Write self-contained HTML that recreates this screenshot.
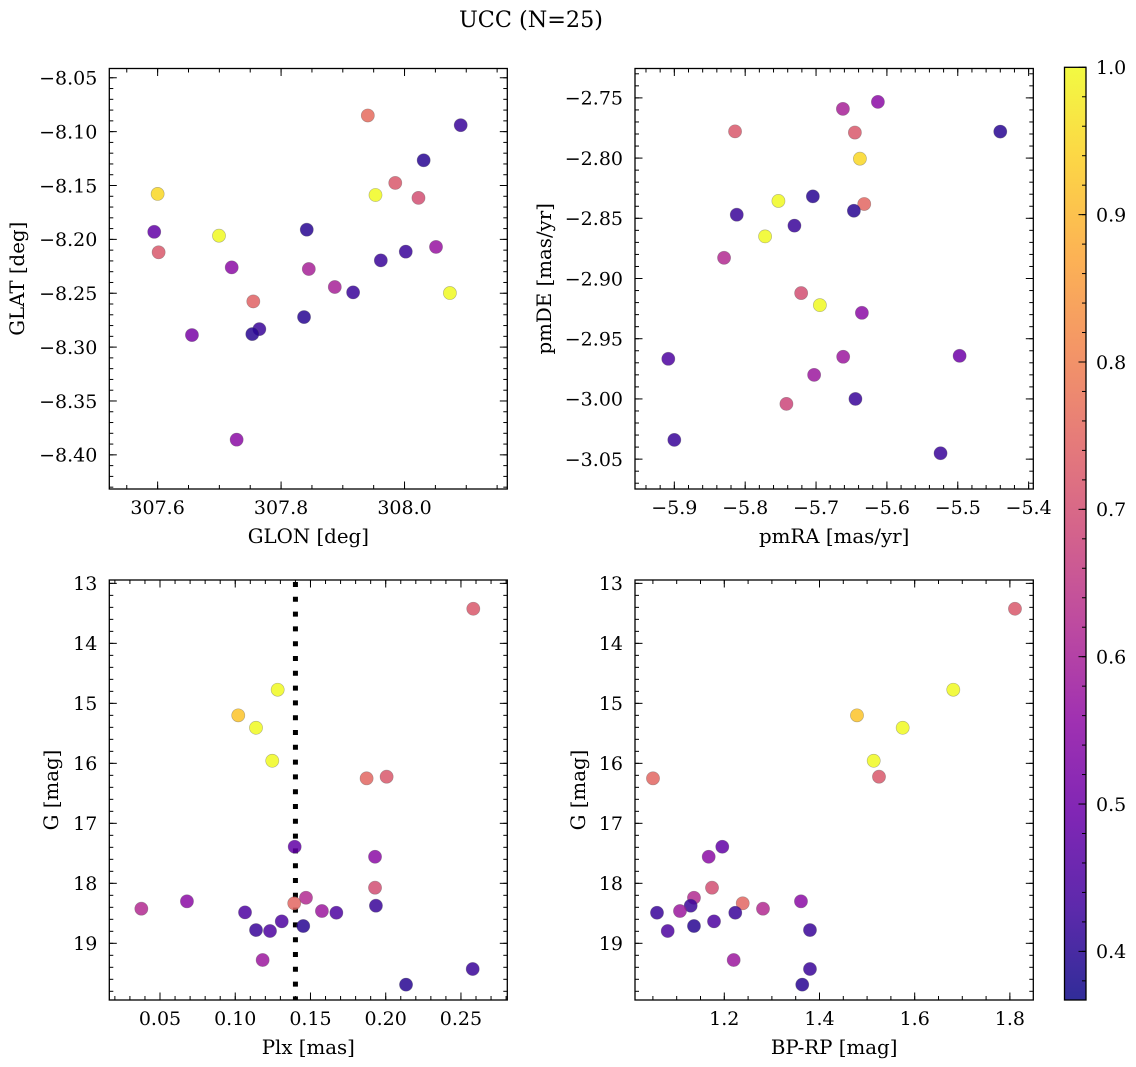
<!DOCTYPE html>
<html>
<head>
<meta charset="utf-8">
<style>
html,body{margin:0;padding:0;background:#fff;}
svg{display:block;}
text{font-family:"DejaVu Serif","Liberation Serif",serif;fill:#000;}
</style>
</head>
<body>
<svg id="fig" width="1136" height="1067" viewBox="0 0 1136 1067" xmlns="http://www.w3.org/2000/svg">
<defs>
<linearGradient id="plasmaGrad" x1="0" y1="1" x2="0" y2="0"></linearGradient>
</defs>
<text x="531" y="27" font-size="22.3" text-anchor="middle">UCC (N=25)</text>
</svg>
<script>
// ---------- DATA ----------
// Panel 1: GLON vs GLAT
const glon = [307.9405,308.091,308.031,307.985,307.953,308.0226,307.6,307.5945,307.6994,307.6016,307.8416,307.72,307.8449,307.9616,308.002,308.051,307.887,307.9167,308.0735,307.755,307.8372,307.7648,307.7534,307.6556,307.728];
const glat = [-8.085,-8.094,-8.1266,-8.1476,-8.1588,-8.1615,-8.1578,-8.193,-8.1966,-8.212,-8.191,-8.226,-8.2275,-8.2195,-8.2114,-8.207,-8.2442,-8.2492,-8.2498,-8.2576,-8.2721,-8.2833,-8.2879,-8.2888,-8.3859];
const prob1 = [0.76,0.42,0.40,0.72,1.0,0.70,0.95,0.48,1.0,0.72,0.40,0.55,0.60,0.42,0.42,0.57,0.60,0.42,1.0,0.74,0.40,0.42,0.40,0.52,0.55];
// Panel 2: pmRA vs pmDE
const pmra = [-5.6127,-5.6621,-5.8143,-5.6452,-5.44,-5.6381,-5.7045,-5.7531,-5.632,-5.6466,-5.8119,-5.7305,-5.7719,-5.8298,-5.721,-5.6946,-5.6353,-5.6617,-5.4974,-5.9085,-5.7027,-5.6444,-5.7418,-5.9,-5.5243];
const pmde = [-2.7533,-2.7591,-2.7778,-2.7788,-2.778,-2.8005,-2.8318,-2.8356,-2.8381,-2.8437,-2.847,-2.8561,-2.865,-2.8828,-2.9121,-2.9221,-2.9285,-2.965,-2.9642,-2.9667,-2.98,-3.0,-3.0041,-3.034,-3.0451];
const prob2 = [0.55,0.60,0.72,0.72,0.40,0.95,0.40,1.0,0.75,0.40,0.42,0.42,1.0,0.62,0.70,1.0,0.55,0.58,0.50,0.45,0.58,0.42,0.68,0.42,0.42];
// Panel 3: Plx vs G
const plx = [0.2582,0.1282,0.102,0.1138,0.1246,0.1873,0.2006,0.1395,0.1929,0.1929,0.147,0.1392,0.1935,0.0679,0.0376,0.1576,0.1672,0.1065,0.1309,0.1452,0.1138,0.1231,0.1182,0.2578,0.2135];
const gmag3 = [13.423,14.773,15.2,15.407,15.957,16.25,16.223,17.39,17.557,18.073,18.24,18.333,18.373,18.3,18.423,18.462,18.49,18.484,18.634,18.712,18.779,18.795,19.278,19.428,19.689];
const prob3 = [0.72,1.0,0.92,1.0,1.0,0.75,0.72,0.48,0.55,0.70,0.62,0.75,0.42,0.55,0.62,0.58,0.45,0.45,0.45,0.40,0.42,0.45,0.58,0.42,0.40];
const plxLine = [0.14];
// Panel 4: BP-RP vs G
const bprp = [1.8107,1.6811,1.4788,1.5748,1.5139,1.0502,1.525,1.1958,1.1672,1.1742,1.1363,1.2387,1.1294,1.3611,1.2813,1.1069,1.0586,1.2231,1.1784,1.1363,1.38,1.0811,1.2197,1.38,1.3638];
const gmag4 = [13.423,14.773,15.2,15.407,15.957,16.25,16.223,17.39,17.557,18.073,18.24,18.333,18.373,18.3,18.423,18.462,18.49,18.49,18.634,18.712,18.779,18.795,19.278,19.428,19.689];
const prob4 = [0.72,1.0,0.92,1.0,1.0,0.75,0.72,0.48,0.55,0.70,0.62,0.75,0.42,0.55,0.62,0.58,0.42,0.42,0.45,0.40,0.42,0.45,0.58,0.42,0.40];
// Tick arrays
const p1xTicks = [307.6,307.8,308.0];
const p1xLabels = ["307.6","307.8","308.0"];
const p1yTicks = [-8.05,-8.10,-8.15,-8.20,-8.25,-8.30,-8.35,-8.40];
const p1yLabels = ["−8.05","−8.10","−8.15","−8.20","−8.25","−8.30","−8.35","−8.40"];
const p2xTicks = [-5.9,-5.8,-5.7,-5.6,-5.5,-5.4];
const p2xLabels = ["−5.9","−5.8","−5.7","−5.6","−5.5","−5.4"];
const p2yTicks = [-2.75,-2.80,-2.85,-2.90,-2.95,-3.00,-3.05];
const p2yLabels = ["−2.75","−2.80","−2.85","−2.90","−2.95","−3.00","−3.05"];
const p3xTicks = [0.05,0.10,0.15,0.20,0.25];
const p3xLabels = ["0.05","0.10","0.15","0.20","0.25"];
const gTicks = [13,14,15,16,17,18,19];
const gLabels = ["13","14","15","16","17","18","19"];
const p4xTicks = [1.2,1.4,1.6,1.8];
const p4xLabels = ["1.2","1.4","1.6","1.8"];
const cbTicks = [0.4,0.5,0.6,0.7,0.8,0.9,1.0];
const cbLabels = ["0.4","0.5","0.6","0.7","0.8","0.9","1.0"];
const cbMin = 0.367, cbMax = 1.0;

// ---------- HELPERS ----------
const NS = "http://www.w3.org/2000/svg";
const svg = document.getElementById('fig');
function mk(tag, attrs, parent){
  const e = document.createElementNS(NS, tag);
  for (const k in attrs) e.setAttribute(k, attrs[k]);
  (parent||svg).appendChild(e);
  return e;
}
const plasma = [[0,"#0d0887"],[0.1,"#41049d"],[0.2,"#6a00a8"],[0.3,"#8f0da4"],[0.4,"#b12a90"],[0.5,"#cc4778"],[0.6,"#e16462"],[0.7,"#f2844b"],[0.8,"#fca636"],[0.9,"#fcce25"],[1.0,"#f0f921"]];
function hex(h){return [1,3,5].map(i=>parseInt(h.substr(i,2),16));}
function cmap(v){
  let t=(v-cbMin)/(cbMax-cbMin); t=Math.max(0,Math.min(1,t));
  for(let i=0;i<plasma.length-1;i++){
    if(t<=plasma[i+1][0]){
      const a=hex(plasma[i][1]), b=hex(plasma[i+1][1]);
      const f=(t-plasma[i][0])/(plasma[i+1][0]-plasma[i][0]);
      return "rgb("+a.map((x,j)=>Math.round(x+(b[j]-x)*f)).join(",")+")";
    }
  }
  return plasma[plasma.length-1][1];
}
const grad = document.getElementById('plasmaGrad');
plasma.forEach(s=>{ mk('stop',{offset:s[0],'stop-color':s[1]},grad); });

function panel(opt){
  const g = mk('g',{});
  
  
  const sx = v => opt.x0 + (v-opt.xd[0])/(opt.xd[1]-opt.xd[0])*(opt.x1-opt.x0);
  const sy = opt.yinv
    ? (v => opt.y0 + (v-opt.yd[0])/(opt.yd[1]-opt.yd[0])*(opt.y1-opt.y0))
    : (v => opt.y1 - (v-opt.yd[0])/(opt.yd[1]-opt.yd[0])*(opt.y1-opt.y0));
  if (opt.vline){
    opt.vline.forEach(v=>{
      const l = mk('line',{x1:sx(v),x2:sx(v),y1:opt.y0+2,y2:opt.y1,stroke:'#000','stroke-width':5,'stroke-dasharray':'5 9.8'},g);
      
      
    });
  }
  const pg = mk('g',{},g);
  
  
  opt.xs.forEach((xv,i)=>{
    const c = mk('circle',{cx:sx(xv),cy:sy(opt.ys[i]),r:6.6,fill:cmap(opt.cs[i]),'fill-opacity':0.85,stroke:'rgba(90,90,90,0.45)','stroke-width':0.6},pg);
    
    
  });
  const tg = mk('g',{stroke:'#000','stroke-width':1},g);
  
  
  function xt(v,len){
    const X=sx(v); if(X<opt.x0+0.5||X>opt.x1-0.5) return;
    mk('line',{x1:X,x2:X,y1:opt.y1,y2:opt.y1-len},tg);
    mk('line',{x1:X,x2:X,y1:opt.y0,y2:opt.y0+len},tg);
  }
  function yt(v,len){
    const Y=sy(v); if(Y<opt.y0+0.5||Y>opt.y1-0.5) return;
    mk('line',{x1:opt.x0,x2:opt.x0+len,y1:Y,y2:Y},tg);
    mk('line',{x1:opt.x1,x2:opt.x1-len,y1:Y,y2:Y},tg);
  }
  const xlo=Math.min(...opt.xd), xhi=Math.max(...opt.xd);
  for(let k=Math.ceil(xlo/opt.xminor);k*opt.xminor<=xhi;k++) xt(k*opt.xminor,4);
  const ylo=Math.min(...opt.yd), yhi=Math.max(...opt.yd);
  for(let k=Math.ceil(ylo/opt.yminor);k*opt.yminor<=yhi;k++) yt(k*opt.yminor,4);
  opt.xt.forEach(v=>xt(v,7.5));
  opt.yt.forEach(v=>yt(v,7.5));
  const f = mk('rect',{x:opt.x0,y:opt.y0,width:opt.x1-opt.x0,height:opt.y1-opt.y0,fill:'none',stroke:'#000','stroke-width':1.3},g);
  
  
  opt.xt.forEach((v,i)=>{
    const t = mk('text',{x:sx(v),y:opt.y1+25,'font-size':19,'text-anchor':'middle'},g);
    t.textContent = opt.xl[i];
    
    
  });
  opt.yt.forEach((v,i)=>{
    const t = mk('text',{x:opt.x0-12,y:sy(v)+6.8,'font-size':19,'text-anchor':'end'},g);
    t.textContent = opt.yl[i];
    
    
  });
  const xa = mk('text',{x:(opt.x0+opt.x1)/2,y:opt.y1+54,'font-size':19.8,'text-anchor':'middle'},g);
  xa.textContent = opt.xlabel;
  
  
  const cy=(opt.y0+opt.y1)/2;
  const ya = mk('text',{x:opt.ylx,y:cy,'font-size':19.8,'text-anchor':'middle',transform:'rotate(-90 '+opt.ylx+' '+cy+')'},g);
  ya.textContent = opt.ylabel;
  
  
}

panel({name:'glon-glat-panel',x0:109.3,x1:507.3,y0:68.5,y1:489,xd:[307.5217,308.1665],yd:[-8.4317,-8.0414],
  xs:glon,ys:glat,cs:prob1,xt:p1xTicks,xl:p1xLabels,yt:p1yTicks,yl:p1yLabels,xminor:0.05,yminor:0.01,
  xlabel:'GLON [deg]',ylabel:'GLAT [deg]',ylx:24});
panel({name:'pm-panel',x0:635,x1:1033.3,y0:68.5,y1:489,xd:[-5.9555,-5.3934],yd:[-3.0748,-2.7256],
  xs:pmra,ys:pmde,cs:prob2,xt:p2xTicks,xl:p2xLabels,yt:p2yTicks,yl:p2yLabels,xminor:0.02,yminor:0.01,
  xlabel:'pmRA [mas/yr]',ylabel:'pmDE [mas/yr]',ylx:551});
panel({name:'plx-g-panel',x0:109.3,x1:507.3,y0:580,y1:1000,xd:[0.0163,0.2808],yd:[12.944,19.945],yinv:true,
  xs:plx,ys:gmag3,cs:prob3,xt:p3xTicks,xl:p3xLabels,yt:gTicks,yl:gLabels,xminor:0.01,yminor:0.2,
  xlabel:'Plx [mas]',ylabel:'G [mag]',ylx:58,vline:plxLine});
panel({name:'cmd-panel',x0:635,x1:1033.3,y0:580,y1:1000,xd:[1.0124,1.8492],yd:[12.944,19.945],yinv:true,
  xs:bprp,ys:gmag4,cs:prob4,xt:p4xTicks,xl:p4xLabels,yt:gTicks,yl:gLabels,xminor:0.05,yminor:0.2,
  xlabel:'BP-RP [mag]',ylabel:'G [mag]',ylx:585});

// ---------- COLORBAR ----------
(function(){
  const x0=1064.5,x1=1086,y0=67.3,y1=1000;
  const g = mk('g',{});
  
  
  const sy = v => y1 - (v-cbMin)/(cbMax-cbMin)*(y1-y0);
  const r = mk('rect',{x:x0,y:y0,width:x1-x0,height:y1-y0,fill:'url(#plasmaGrad)','fill-opacity':0.85,stroke:'#000','stroke-width':1.3},g);
  
  
  for(let k=Math.ceil(cbMin/0.02);k*0.02<=cbMax+1e-9;k++){
    const Y=sy(k*0.02);
    mk('line',{x1:x1,x2:x1-4,y1:Y,y2:Y,stroke:'#000','stroke-width':1},g);
  }
  cbTicks.forEach((v,i)=>{
    const Y=sy(v);
    mk('line',{x1:x1,x2:x1-7.5,y1:Y,y2:Y,stroke:'#000','stroke-width':1},g);
    const t = mk('text',{x:x1+10,y:Y+6.8,'font-size':19},g);
    t.textContent = cbLabels[i];
    
    
  });
})();
</script>
</body>
</html>
